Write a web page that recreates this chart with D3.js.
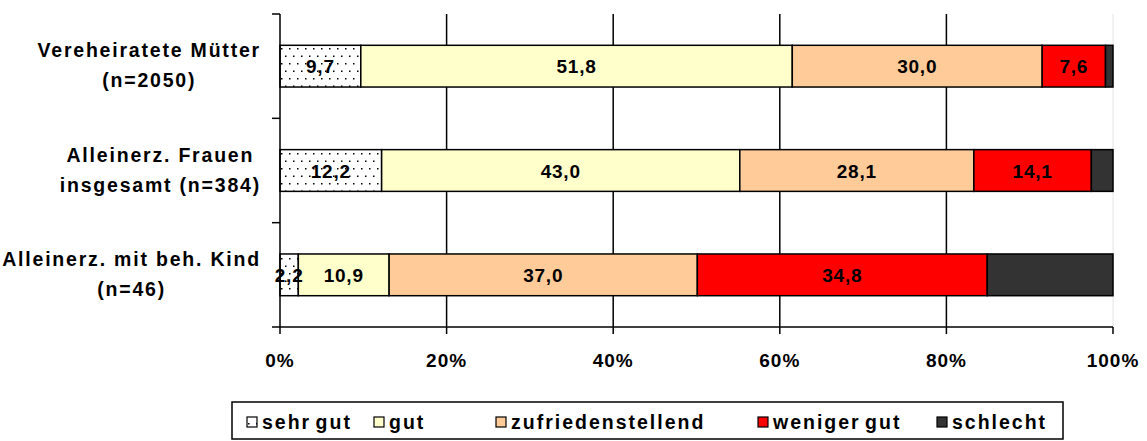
<!DOCTYPE html>
<meta charset="utf-8">
<style>
body { margin: 0; background: #fff; }
svg text { font-family: "Liberation Sans", Arial, sans-serif; font-weight: bold; fill: #000; }
.cat { font-size: 19.5px; letter-spacing: 1.8px; }
.tick-label { font-size: 19px; letter-spacing: 1px; }
.val { font-size: 19px; letter-spacing: 0.8px; }
.leg { font-size: 19.5px; letter-spacing: 2px; word-spacing: -3px; }
</style>
<body>
<script src="https://d3js.org/d3.v7.min.js"></script>
<script>
var width = 1147, height = 441;

// data
var groups = [
  ["Vereheiratete Mütter", "(n=2050)"],
  ["Alleinerz. Frauen ", "insgesamt (n=384)"],
  ["Alleinerz. mit beh. Kind", "(n=46)"]
];
var keys = ["sehr gut", "gut", "zufriedenstellend", "weniger gut", "schlecht"];
var sehrGut = [9.7, 12.2, 2.2];
var gut = [51.8, 43.0, 10.9];
var zufrieden = [30.0, 28.1, 37.0];
var weniger = [7.6, 14.1, 34.8];
var schlecht = [0.9, 2.6, 15.1];
var xTicks = [0, 0.2, 0.4, 0.6, 0.8, 1.0];

var series = [sehrGut, gut, zufrieden, weniger, schlecht];
var colors = ["url(#dots)", "#FFFFCC", "#FFCC99", "#FF0000", "#333333"];
var showLabel = [true, true, true, true, false];

var svg = d3.select("body").append("svg")
    .attr("width", width)
    .attr("height", height);

// dotted pattern for "sehr gut"
var pat = svg.append("defs").append("pattern")
    .attr("id", "dots")
    .attr("patternUnits", "userSpaceOnUse")
    .attr("width", 8).attr("height", 15);
pat.append("rect").attr("width", 8).attr("height", 15).attr("fill", "#fff");
pat.append("rect").attr("x", 1).attr("y", 3).attr("width", 1.5).attr("height", 1.5).attr("fill", "#000");
pat.append("rect").attr("x", 5).attr("y", 10.5).attr("width", 1.5).attr("height", 1.5).attr("fill", "#000");

var x = d3.scaleLinear().domain([0, 1]).range([280, 1113]);
var y = d3.scaleBand().domain(d3.range(groups.length)).range([14, 327])
    .paddingInner(0.6).paddingOuter(0.3);

// gridlines
svg.append("g").selectAll("line")
    .data(xTicks.slice(1))
    .join("line")
    .attr("x1", d => x(d)).attr("x2", d => x(d))
    .attr("y1", 14).attr("y2", 327)
    .attr("stroke", d => d === 1 ? "#e4e4e4" : "#000")
    .attr("stroke-width", d => d === 1 ? 1 : 1.5);

// stacked bars
var rows = groups.map(function(g, i) {
    var start = 0;
    return series.map(function(s, k) {
        var seg = {row: i, k: k, v: s[i], x0: start / 100, x1: (start + s[i]) / 100};
        start += s[i];
        return seg;
    });
});
var segs = [].concat.apply([], rows);

svg.append("g").selectAll("rect")
    .data(segs)
    .join("rect")
    .attr("x", d => x(d.x0))
    .attr("y", d => y(d.row))
    .attr("width", d => x(d.x1) - x(d.x0))
    .attr("height", y.bandwidth())
    .attr("fill", d => colors[d.k])
    .attr("stroke", "#000")
    .attr("stroke-width", 1.5);

var fmt = d3.format(".1f");
svg.append("g").selectAll("text")
    .data(segs.filter(d => showLabel[d.k]))
    .join("text")
    .attr("class", "val")
    .attr("x", d => (x(d.x0) + x(d.x1)) / 2)
    .attr("y", d => y(d.row) + y.bandwidth() / 2 + 7)
    .attr("text-anchor", "middle")
    .text(d => fmt(d.v).replace(".", ","));

// axes
var axisG = svg.append("g").attr("stroke", "#000").attr("stroke-width", 1.5);
axisG.append("line").attr("x1", 280).attr("x2", 280).attr("y1", 14).attr("y2", 327);
axisG.append("line").attr("x1", 280).attr("x2", 1113).attr("y1", 327).attr("y2", 327);
axisG.selectAll(".yt")
    .data(d3.range(groups.length + 1))
    .join("line")
    .attr("x1", 272).attr("x2", 280)
    .attr("y1", i => 14 + i * y.step())
    .attr("y2", i => 14 + i * y.step());
axisG.selectAll(".xt")
    .data(xTicks)
    .join("line")
    .attr("x1", d => x(d)).attr("x2", d => x(d))
    .attr("y1", 327).attr("y2", 334);

svg.append("g").selectAll("text")
    .data(xTicks)
    .join("text")
    .attr("class", "tick-label")
    .attr("x", d => x(d))
    .attr("y", 367)
    .attr("text-anchor", "middle")
    .text(d3.format(".0%"));

// category labels: block right-aligned at 261, lines centred within block
groups.forEach(function(lines, i) {
    var g = svg.append("g");
    var cy = y(i) + y.bandwidth() / 2;
    var t = g.selectAll("text").data(lines).join("text")
        .attr("class", "cat")
        .attr("text-anchor", "middle")
        .attr("y", (d, j) => cy + (j === 0 ? -9 : 21))
        .text(d => d);
    var maxW = d3.max(t.nodes(), n => n.getComputedTextLength());
    t.attr("x", 261 - maxW / 2);
});

// legend
var leg = svg.append("g");
leg.append("rect")
    .attr("x", 232).attr("y", 402).attr("width", 831).attr("height", 37)
    .attr("fill", "#fff").attr("stroke", "#000").attr("stroke-width", 1.5);
var legX = [247, 374, 496, 758, 937];
var li = leg.selectAll(".li").data(keys).join("g")
    .attr("transform", (d, k) => "translate(" + legX[k] + ",0)");
li.append("rect")
    .attr("x", 0).attr("y", 417).attr("width", 10).attr("height", 10)
    .attr("fill", (d, k) => colors[k])
    .attr("stroke", "#000").attr("stroke-width", 1.2);
li.append("text")
    .attr("class", "leg")
    .attr("x", 15).attr("y", 429)
    .text(d => d);
</script>
</body>
